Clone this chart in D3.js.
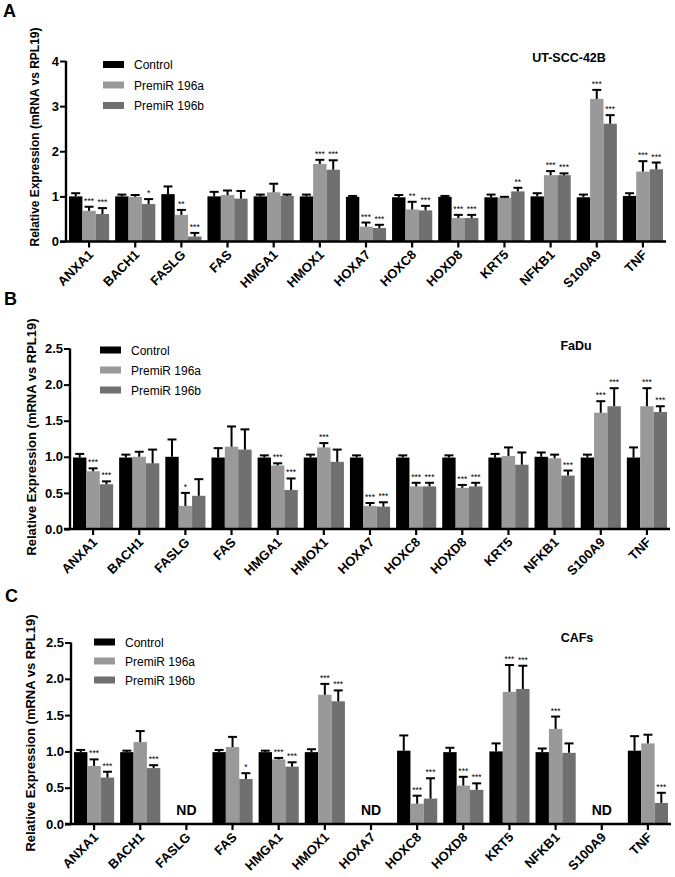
<!DOCTYPE html>
<html><head><meta charset="utf-8">
<script src="https://cdn.jsdelivr.net/npm/d3@7"></script>
<style>
body{margin:0;background:#fff;}
svg{display:block;font-family:"Liberation Sans",Arial,sans-serif;}
</style></head>
<body>
<svg id="chart" width="675" height="877"></svg>
<script>
const genes = ["ANXA1","BACH1","FASLG","FAS","HMGA1","HMOX1","HOXA7","HOXC8","HOXD8","KRT5","NFKB1","S100A9","TNF"];
const seriesNames = ["Control","PremiR 196a","PremiR 196b"];
const seriesColors = ["#000000","#999999","#707070"];

// Panel A: UT-SCC-42B
const aControl    = [1.00,1.00,1.05,1.00,1.00,1.00,0.99,0.98,0.99,0.98,1.00,0.98,1.01];
const aControlErr = [0.07,0.04,0.17,0.10,0.04,0.04,0.02,0.05,0.02,0.06,0.07,0.06,0.06];
const aMiA        = [0.68,0.99,0.59,1.03,1.09,1.72,0.33,0.71,0.52,0.97,1.47,3.16,1.55];
const aMiAErr     = [0.09,0.04,0.11,0.10,0.19,0.09,0.09,0.17,0.07,0.02,0.09,0.20,0.23];
const aMiB        = [0.61,0.83,0.11,0.95,1.01,1.59,0.30,0.69,0.52,1.11,1.47,2.61,1.60];
const aMiBErr     = [0.13,0.11,0.08,0.17,0.03,0.21,0.07,0.10,0.07,0.08,0.04,0.19,0.15];
const aStarsA     = ["***","","**","","","***","***","**","***","","***","***","***"];
const aStarsB     = ["***","*","***","","","***","***","***","***","**","***","***","***"];
const aTicks      = [0,1,2,3,4];

// Panel B: FaDu
const bControl    = [0.99,0.99,1.00,0.99,0.99,0.99,0.99,0.99,0.99,0.99,1.00,0.99,0.99];
const bControlErr = [0.05,0.04,0.24,0.13,0.03,0.04,0.03,0.03,0.03,0.05,0.06,0.04,0.14];
const bMiA        = [0.80,1.00,0.32,1.14,0.88,1.13,0.32,0.59,0.57,1.01,0.98,1.61,1.70];
const bMiAErr     = [0.04,0.07,0.18,0.28,0.03,0.06,0.04,0.05,0.04,0.12,0.05,0.16,0.25];
const bMiB        = [0.62,0.91,0.46,1.10,0.54,0.93,0.31,0.59,0.59,0.89,0.74,1.70,1.62];
const bMiBErr     = [0.04,0.19,0.23,0.28,0.16,0.17,0.06,0.05,0.05,0.17,0.07,0.25,0.08];
const bStarsA     = ["***","","*","","***","***","***","***","***","","","***","***"];
const bStarsB     = ["***","","","","***","","***","***","***","","***","***","***"];
const bTicks      = [0,0.5,1,1.5,2,2.5];

// Panel C: CAFs (null = not detected)
const cControl    = [0.99,0.99,null,0.99,0.99,0.99,null,1.01,0.99,1.00,0.99,null,1.01];
const cControlErr = [0.03,0.02,null,0.03,0.02,0.04,null,0.21,0.06,0.11,0.05,null,0.20];
const cMiA        = [0.80,1.13,null,1.06,0.89,1.78,null,0.28,0.53,1.82,1.31,null,1.11];
const cMiAErr     = [0.09,0.15,null,0.14,0.02,0.15,null,0.11,0.12,0.37,0.17,null,0.12];
const cMiB        = [0.64,0.77,null,0.62,0.79,1.69,null,0.35,0.47,1.86,0.98,null,0.29];
const cMiBErr     = [0.08,0.04,null,0.08,0.06,0.15,null,0.28,0.09,0.32,0.13,null,0.14];
const cStarsA     = ["***","","","","***","***","","***","***","***","***","",""];
const cStarsB     = ["***","***","","*","***","***","","***","***","***","","","***"];
const cTicks      = [0,0.5,1,1.5,2,2.5];

const yLabel = "Relative Expression (mRNA vs RPL19)";

const panels = [
  {letter:"A", title:"UT-SCC-42B", vals:[aControl,aMiA,aMiB], errs:[aControlErr,aMiAErr,aMiBErr], stars:[null,aStarsA,aStarsB],
   ticks:aTicks, fmt:d3.format("d"), ymax:4, x0:66, x1:666, y0:241.5, y1:61, letterX:3, letterY:17,
   titleX:569, titleY:62, labelX:35, labelY:137, labelSize:12, legX:103, legY:64.5, legGap:20.5},
  {letter:"B", title:"FaDu", vals:[bControl,bMiA,bMiB], errs:[bControlErr,bMiAErr,bMiBErr], stars:[null,bStarsA,bStarsB],
   ticks:bTicks, fmt:d3.format(".1f"), ymax:2.5, x0:70, x1:670, y0:529, y1:348.5, letterX:4, letterY:305,
   titleX:576, titleY:350, labelX:31, labelY:437, labelSize:13, legX:100, legY:350, legGap:20},
  {letter:"C", title:"CAFs", vals:[cControl,cMiA,cMiB], errs:[cControlErr,cMiAErr,cMiBErr], stars:[null,cStarsA,cStarsB],
   ticks:cTicks, fmt:d3.format(".1f"), ymax:2.5, x0:71, x1:671, y0:824, y1:642.5, letterX:5, letterY:602,
   titleX:577, titleY:642, labelX:30, labelY:733, labelSize:13, legX:94, legY:642, legGap:19}
];

const svg = d3.select("#chart");

panels.forEach(p => {
  const g = svg.append("g");
  const x = d3.scaleBand().domain(genes).range([p.x0, p.x1]).paddingInner(0.13).paddingOuter(0.065);
  const xs = d3.scaleBand().domain(d3.range(3)).range([0, x.bandwidth()]);
  const y = d3.scaleLinear().domain([0, p.ymax]).range([p.y0, p.y1]);

  // bars
  for (let s = 0; s < 3; s++) {
    const rows = genes.map((gname, i) => ({g:gname, v:p.vals[s][i], e:p.errs[s][i], st:p.stars[s] ? p.stars[s][i] : ""}))
                      .filter(d => d.v !== null);
    const sg = g.append("g");
    sg.selectAll("rect").data(rows).join("rect")
      .attr("x", d => x(d.g) + xs(s))
      .attr("y", d => y(d.v))
      .attr("width", xs.bandwidth())
      .attr("height", d => y(0) - y(d.v))
      .attr("fill", seriesColors[s]);
    const cx = d => x(d.g) + xs(s) + xs.bandwidth() / 2;
    sg.selectAll("line.v").data(rows).join("line").attr("class","v")
      .attr("x1", cx).attr("x2", cx)
      .attr("y1", d => y(d.v)).attr("y2", d => y(d.v + d.e))
      .attr("stroke", "#000").attr("stroke-width", 2);
    sg.selectAll("line.c").data(rows).join("line").attr("class","c")
      .attr("x1", d => cx(d) - 4.5).attr("x2", d => cx(d) + 4.5)
      .attr("y1", d => y(d.v + d.e)).attr("y2", d => y(d.v + d.e))
      .attr("stroke", "#000").attr("stroke-width", 2);
    sg.selectAll("text").data(rows.filter(d => d.st)).join("text")
      .attr("x", cx).attr("y", d => y(d.v + d.e) - 3)
      .attr("text-anchor", "middle").attr("font-size", 8.5).attr("fill", "#000")
      .text(d => d.st);
  }

  // ND labels
  const ndGenes = genes.filter((gname, i) => p.vals[0][i] === null);
  g.selectAll("text.nd").data(ndGenes).join("text").attr("class","nd")
    .attr("x", d => x(d) + x.bandwidth() / 2).attr("y", y(0) - 9)
    .attr("text-anchor", "middle").attr("font-size", 14).attr("font-weight", "bold")
    .text("ND");

  // y axis
  const yAxis = g.append("g").attr("transform", `translate(${p.x0},0)`)
    .call(d3.axisLeft(y).tickValues(p.ticks).tickFormat(p.fmt).tickSize(6).tickPadding(1));
  yAxis.select(".domain").attr("d", `M0,${p.y1}V${p.y0}`).attr("stroke-width", 2.4);
  yAxis.selectAll(".tick line").attr("stroke-width", 2);
  yAxis.selectAll(".tick text").attr("font-size", 13).attr("font-weight", "bold")
    .attr("font-family", '"Liberation Sans",Arial,sans-serif').attr("fill", "#000");

  // x axis
  const xAxis = g.append("g").attr("transform", `translate(0,${p.y0})`)
    .call(d3.axisBottom(x).tickSize(6).tickSizeOuter(0));
  xAxis.select(".domain").attr("d", `M${p.x0 - 6},0H${p.x1}`).attr("stroke-width", 2.4);
  xAxis.selectAll(".tick line").attr("stroke-width", 2.2);
  xAxis.selectAll(".tick text")
    .attr("font-size", 13).attr("font-weight", "bold").attr("fill", "#000")
    .attr("font-family", '"Liberation Sans",Arial,sans-serif')
    .attr("text-anchor", "end").attr("dy", null).attr("y", 0)
    .attr("transform", "translate(5,14) rotate(-45)");

  // y label
  g.append("text")
    .attr("transform", `translate(${p.labelX + p.labelSize * 0.35},${p.labelY}) rotate(-90)`)
    .attr("text-anchor", "middle").attr("font-size", p.labelSize).attr("font-weight", "bold")
    .text(yLabel);

  // panel letter
  g.append("text").attr("x", p.letterX).attr("y", p.letterY)
    .attr("font-size", 18).attr("font-weight", "bold").text(p.letter);

  // title
  g.append("text").attr("x", p.titleX).attr("y", p.titleY)
    .attr("text-anchor", "middle").attr("font-size", 12.5).attr("font-weight", "bold")
    .text(p.title);

  // legend
  const leg = g.append("g");
  seriesNames.forEach((name, s) => {
    const ly = p.legY + s * p.legGap;
    leg.append("rect").attr("x", p.legX).attr("y", ly - 3.5).attr("width", 21).attr("height", 7)
      .attr("fill", seriesColors[s]);
    leg.append("text").attr("x", p.legX + 31).attr("y", ly + 4.5)
      .attr("font-size", 12).text(name);
  });
});
</script>
</body></html>
